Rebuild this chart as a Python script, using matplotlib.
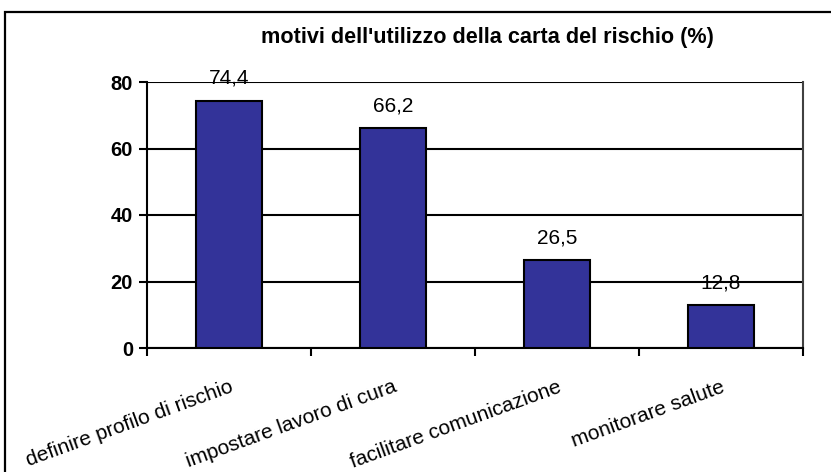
import matplotlib
matplotlib.use("Agg")
import matplotlib.pyplot as plt
from matplotlib.patches import Rectangle
from matplotlib.ticker import FixedLocator

plt.rcParams['font.family'] = ['Liberation Sans', 'DejaVu Sans']

categories = ["definire profilo di rischio", "impostare lavoro di cura",
              "facilitare comunicazione", "monitorare salute"]
values = [74.4, 66.2, 26.5, 12.8]
value_labels = ["74,4", "66,2", "26,5", "12,8"]
yticks = [0, 20, 40, 60, 80]
title = "motivi dell'utilizzo della carta del rischio (%)"

W, H = 831, 472
fig = plt.figure(figsize=(W / 100, H / 100), dpi=100)
fig.patch.set_facecolor("white")

# figure border (left and top visible)
fig.patches.append(Rectangle((5 / W, -0.05), 1.0, 1.05 - 12 / H,
                             transform=fig.transFigure, fill=False,
                             edgecolor="black", linewidth=1.6, zorder=10))

left, right = 147 / W, 803 / W
bottom, top = 1 - 348 / H, 1 - 82 / H
ax = fig.add_axes([left, bottom, right - left, top - bottom])

x = list(range(len(categories)))
ax.bar(x, values, width=0.4, color="#333399", edgecolor="black",
       linewidth=1.5, zorder=3)
ax.set_xlim(-0.5, len(categories) - 0.5)
ax.set_ylim(0, 80)

ax.set_yticks(yticks)
ax.set_yticklabels([str(t) for t in yticks], fontsize=14.5, fontweight="bold")
ax.yaxis.grid(True, color="black", linewidth=1.5, zorder=1)
ax.set_axisbelow(True)

ax.xaxis.set_major_locator(FixedLocator([i - 0.5 for i in range(len(categories) + 1)]))
ax.xaxis.set_minor_locator(FixedLocator(x))
ax.set_xticklabels([], minor=False)
ax.set_xticklabels(categories, minor=True, rotation=20, ha="right",
                   rotation_mode="anchor", fontsize=15)
ax.tick_params(axis="x", which="minor", length=0, pad=21)
ax.tick_params(axis="x", which="major", direction="out", length=6, width=1.5)
ax.tick_params(axis="y", direction="out", length=6, width=1.5, pad=4)

for s in ["left", "bottom"]:
    ax.spines[s].set_linewidth(1.5)
    ax.spines[s].set_color("black")
ax.spines["right"].set_linewidth(1.5)
ax.spines["right"].set_color("#404040")
ax.spines["top"].set_visible(False)

for xi, v, lab in zip(x, values, value_labels):
    ax.annotate(lab, (xi, v), xytext=(0, 12), textcoords="offset points",
                ha="center", va="baseline", fontsize=15, zorder=4)

fig.text(487 / W, 1 - 38 / H, title, ha="center",
         va="center", fontsize=15.6, fontweight="bold")

fig.savefig("out.png", dpi=100)
